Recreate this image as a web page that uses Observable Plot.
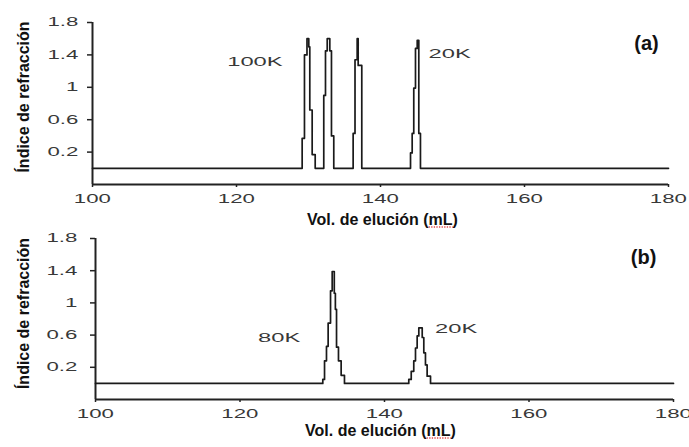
<!DOCTYPE html>
<html><head><meta charset="utf-8">
<script src="https://cdn.jsdelivr.net/npm/d3@7"></script>
<script src="https://cdn.jsdelivr.net/npm/@observablehq/plot@0.6"></script>
<style>
body{margin:0;background:#fff;}
svg{display:block;}
</style></head><body><div id="chart"></div>
<script>
// ---- data ----
const xTicks = [100, 120, 140, 160, 180];
const yTicks = [0.2, 0.6, 1, 1.4, 1.8];
const xTitle = "Vol. de elución (mL)";
const yTitle = "Índice de refracción";

// panel (a): four narrow standards (stepped trace)
const volA = [100, 129.12, 129.44, 129.79, 130.04, 130.18, 130.51, 130.93,
  132.12, 132.36, 132.6, 132.96, 133.19, 133.51,
  136.2, 136.46, 136.76, 136.9, 137.4,
  144.17, 144.4, 144.62, 144.86, 145.1, 145.32, 145.55, 180];
const riA = [0, 0.37, 1.4, 1.6, 1.5, 0.72, 0.17, 0,
  0.9, 1.45, 1.6, 1.45, 0.4, 0,
  0.43, 1.34, 1.6, 1.27, 0,
  0.19, 0.43, 0.99, 1.48, 1.58, 0.43, 0, 0];

// panel (b): two broader peaks
const volB = [100, 131.46, 131.7, 131.97, 132.2, 132.53, 132.76, 133.05, 133.2, 133.36, 133.63, 134.0, 134.46,
  143.36, 143.7, 144.05, 144.29, 144.52, 144.75, 145.22, 145.44, 145.67, 145.9, 146.37, 180];
const riB = [0, 0.05, 0.28, 0.46, 0.75, 1.15, 1.39, 1.12, 0.92, 0.45, 0.28, 0.1, 0,
  0.05, 0.15, 0.28, 0.44, 0.59, 0.69, 0.57, 0.38, 0.23, 0.09, 0, 0];

const peakLabelsA = ["100K", "20K"];
const peakXA = [122.6, 149.65];
const peakYA = [1.31, 1.41];
const peakLabelsB = ["80K", "20K"];
const peakXB = [125.47, 149.97];
const peakYB = [0.57, 0.676];

const panelTags = ["(a)", "(b)"];
const tagX = [176.94, 175.85];
const tagY = [1.535, 1.558];

// ---- build ----
function panel(cfg) {
  const data = cfg.vol.map((v, i) => ({vol: v, ri: cfg.ri[i]}));
  const labels = cfg.labels.map((t, i) => ({t, x: cfg.lx[i], y: cfg.ly[i]}));
  return Plot.plot({
    width: 689, height: cfg.height,
    marginLeft: cfg.ml, marginRight: cfg.mr, marginTop: cfg.mt, marginBottom: cfg.mb,
    style: {fontFamily: "'Liberation Sans', Arial, sans-serif", fontSize: "12px", color: "#222", background: "#fff", overflow: "visible"},
    x: {domain: [100, 180]},
    y: {domain: [-0.2, 1.8]},
    marks: [
      Plot.axisX({ticks: xTicks, tickSize: 3, tickPadding: 7, label: null, tickFormat: d => String(d), fill: "#383838", strokeWidth: 1.5}),
      Plot.axisY({ticks: yTicks, tickSize: 5, tickPadding: cfg.ypad, label: null, tickFormat: d => String(d), fill: "#383838", strokeWidth: 1.5}),
      Plot.ruleX([100], {y1: -0.2, y2: 1.8, stroke: "#222", strokeWidth: 2}),
      Plot.ruleY([-0.2], {x1: 100, x2: 180, stroke: "#222", strokeWidth: 2}),
      Plot.line(data, {x: "vol", y: "ri", curve: "step-after", stroke: "#1a1a1a", strokeWidth: 1.7}),
      Plot.text(labels, {x: "x", y: "y", text: "t", fontSize: 12.5, fill: "#383838"}),
      Plot.text([cfg.tag], {x: () => cfg.tx, y: () => cfg.ty, text: d => d, fontSize: 20, fontWeight: "bold", fill: "#111"}),
      Plot.text([xTitle], {frameAnchor: "bottom", text: d => d, dx: cfg.xtdx, dy: cfg.xtdy, fontSize: 16, fontWeight: "bold", fill: "#111"}),
      Plot.text([yTitle], {frameAnchor: "left", textAnchor: "middle", text: d => d, rotate: -90, dx: cfg.ytdx, dy: cfg.ytdy, fontSize: 16, fontWeight: "bold", fill: "#111"})
    ]
  });
}

const chart = document.getElementById("chart");
const pA = panel({vol: volA, ri: riA, labels: peakLabelsA, lx: peakXA, ly: peakYA,
  tag: panelTags[0], tx: tagX[0], ty: tagY[0],
  height: 230, ml: 92, mr: 21, mt: 22, mb: 46, ypad: 9,
  xtdx: 2, xtdy: 40, ytdx: -69, ytdy: -6.5});
const pB = panel({vol: volB, ri: riB, labels: peakLabelsB, lx: peakXB, ly: peakYB,
  tag: panelTags[1], tx: tagX[1], ty: tagY[1],
  height: 217, ml: 95, mr: 16, mt: 8, mb: 48, ypad: 13,
  xtdx: -4, xtdy: 36, ytdx: -72, ytdy: -5.5});
chart.append(pA, pB);

// widen the (horizontally stretched) tick and peak label glyphs, like the source figure
const tickStrings = new Set([...xTicks, ...yTicks].map(String));
const peakStrings = new Set([...peakLabelsA, ...peakLabelsB]);
for (const svg of [pA, pB]) {
  svg.querySelectorAll("text").forEach(t => {
    const s = t.textContent;
    let k = 0;
    if (tickStrings.has(s)) k = 1.85;
    else if (peakStrings.has(s)) k = 1.9;
    if (k) {
      const b = t.getBBox();
      const anchor = getComputedStyle(t).textAnchor;
      const ax = anchor === "end" ? b.x + b.width : anchor === "middle" ? b.x + b.width / 2 : b.x;
      t.setAttribute("transform", (t.getAttribute("transform") || "") +
        ` translate(${ax},0) scale(${k},1) translate(${-ax},0)`);
    }
    if (s === xTitle) {
      // red dotted spell-check underline under "mL"
      const i = xTitle.indexOf("mL");
      try {
        const p0 = t.getStartPositionOfChar(i), p1 = t.getEndPositionOfChar(i + 1);
        const path = document.createElementNS("http://www.w3.org/2000/svg", "path");
        path.setAttribute("d", `M${p0.x},${p0.y + 2.5}H${p1.x}`);
        path.setAttribute("transform", t.getAttribute("transform") || "");
        path.setAttribute("stroke", "#e04848");
        path.setAttribute("stroke-width", "1.3");
        path.setAttribute("stroke-dasharray", "1.3 1.3");
        path.setAttribute("fill", "none");
        t.parentNode.appendChild(path);
      } catch (e) {}
    }
  });
}
</script></body></html>
